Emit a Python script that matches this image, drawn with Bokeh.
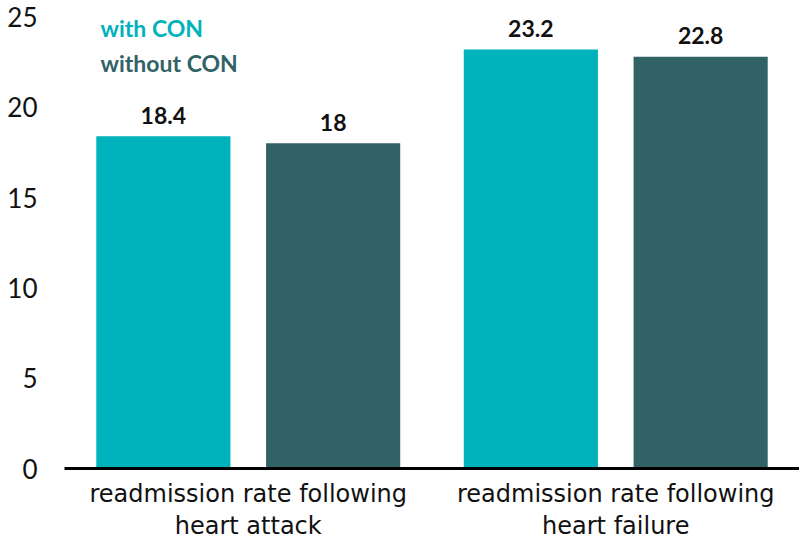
from bokeh.plotting import figure
from bokeh.models import Range1d, FactorRange, ColumnDataSource, Label
from bokeh.transform import dodge
from bokeh.core.properties import value
from bokeh.embed import file_html
from bokeh.resources import INLINE

categories = ["readmission rate following\nheart attack", "readmission rate following\nheart failure"]
series = ["with CON", "without CON"]
with_con = [18.4, 23.2]
without_con = [18.0, 22.8]
yticks = [0, 5, 10, 15, 20, 25]

colors = ["#00B2BB", "#316266"]
FONT = "Lato"
XFONT = "DejaVu Sans"

src = ColumnDataSource(dict(cat=categories, a=with_con, b=without_con,
                            la=[f"{v:g}" for v in with_con], lb=[f"{v:g}" for v in without_con]))

p = figure(width=799, height=542, x_range=FactorRange(*categories, range_padding=0),
           y_range=Range1d(0, 25.91), output_backend="svg", toolbar_location=None,
           min_border_left=64, min_border_right=0, min_border_top=0, min_border_bottom=74)
p.outline_line_color = None
p.xgrid.grid_line_color = None
p.ygrid.grid_line_color = None

off = 0.231
w = 0.365
p.vbar(x=dodge("cat", -off, range=p.x_range), top="a", width=w, source=src, color=colors[0], line_color=None)
p.vbar(x=dodge("cat", off, range=p.x_range), top="b", width=w, source=src, color=colors[1], line_color=None)

p.text(x=dodge("cat", -off, range=p.x_range), y="a", text="la", source=src,
       text_align="center", text_baseline="alphabetic", y_offset=-21,
       text_font=value(FONT), text_font_style="bold", text_font_size="23px", text_color="#111111")
p.text(x=dodge("cat", off, range=p.x_range), y="b", text="lb", source=src,
       text_align="center", text_baseline="alphabetic", y_offset=-21,
       text_font=value(FONT), text_font_style="bold", text_font_size="23px", text_color="#111111")

# legend as coloured text
for name, col, yy in zip(series, colors, [24.4, 22.43]):
    p.add_layout(Label(x=0.098, y=yy, text=name, text_color=col, text_font=FONT,
                       text_font_style="bold", text_font_size="23px", text_baseline="alphabetic"))

p.yaxis.ticker = yticks
p.yaxis.axis_line_color = None
p.yaxis.major_tick_line_color = None
p.yaxis.minor_tick_line_color = None
p.yaxis.major_tick_out = 0
p.yaxis.major_tick_in = 0
p.yaxis.major_label_standoff = 27
p.yaxis.major_label_text_font = FONT
p.yaxis.major_label_text_font_size = "26px"
p.yaxis.major_label_text_color = "#111111"

p.xaxis.axis_line_color = "black"
p.xaxis.axis_line_width = 3
p.xaxis.major_tick_line_color = None
p.xaxis.minor_tick_line_color = None
p.xaxis.major_tick_out = 0
p.xaxis.major_tick_in = 0
p.xaxis.major_label_standoff = 11
p.xaxis.major_label_text_font = XFONT
p.xaxis.major_label_text_font_size = "24px"
p.xaxis.major_label_text_color = "#111111"
p.xaxis.major_label_text_line_height = 1.15

open("out.html", "w").write(file_html(p, INLINE))
